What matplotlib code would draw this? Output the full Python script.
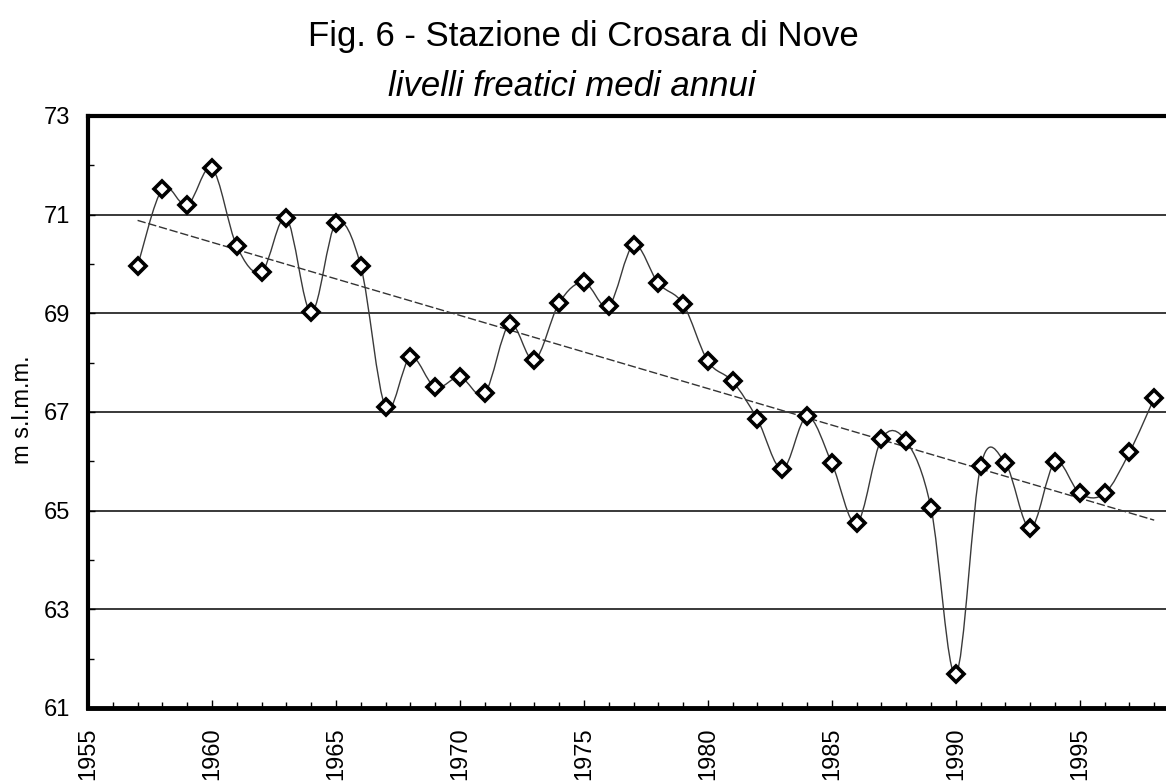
#!/usr/bin/env python3
'''
Fig. 6 - Stazione di Crosara di Nove, livelli freatici medi annui.
Excel-style smoothed line + linear trend, redrawn with matplotlib.
'''

import numpy as np
import matplotlib
matplotlib.use("Agg")
import matplotlib.pyplot as plt
from matplotlib.path import Path
from matplotlib.patches import PathPatch
from matplotlib.ticker import MultipleLocator, FixedLocator

plt.rcParams['font.family'] = ['Liberation Sans', 'DejaVu Sans']

# annual mean water table level (m s.l.m.m.)
years = list(range(1957, 1999))
levels = [69.96, 71.52, 71.19, 71.94, 70.36, 69.84, 70.93, 69.02, 70.83, 69.96,
          67.10, 68.11, 67.50, 67.71, 67.38, 68.78, 68.05, 69.21, 69.63, 69.15,
          70.38, 69.61, 69.19, 68.03, 67.62, 66.85, 65.84, 66.91, 65.96, 64.74,
          66.45, 66.41, 65.05, 61.68, 65.90, 65.96, 64.64, 65.98, 65.35, 65.35,
          66.18, 67.28]

title = "Fig. 6 - Stazione di Crosara di Nove"
subtitle = "livelli freatici medi annui"
ylabel = "m s.l.m.m."
xticks = list(range(1955, 2000, 5))
yticks = list(range(61, 74, 2))
yminor = [62, 64, 66, 68, 70, 72]


def smooth_path(x, y):
    '''Catmull-Rom like bezier through every point (what Excel calls a smoothed line).'''
    pts = np.column_stack([x, y]).astype(float)
    n = len(pts)
    verts = [pts[0]]
    codes = [Path.MOVETO]
    for i in range(n - 1):
        p0 = pts[max(i - 1, 0)]
        p1 = pts[i]
        p2 = pts[i + 1]
        p3 = pts[min(i + 2, n - 1)]
        verts += [p1 + (p2 - p0) / 6, p2 - (p3 - p1) / 6, p2]
        codes += [Path.CURVE4] * 3
    return Path(verts, codes)


fig = plt.figure(figsize=(11.66, 7.84), dpi=100)
# axes runs past the right edge of the figure, like the cropped scan
ax = fig.add_axes([88 / 1166, 76 / 784, 1091 / 1166, 592 / 784])

ax.set_xlim(1955, 1999)
ax.set_ylim(61, 73)

# horizontal grid
for v in yticks[1:-1]:
    ax.axhline(v, color='#2a2a2a', lw=1.3, zorder=1)

# smoothed series
ax.add_patch(PathPatch(smooth_path(years, levels), fill=False,
                       edgecolor='#3a3a3a', lw=1.0, zorder=2))
ax.plot(years, levels, ls='none', marker='D', ms=8, mfc='white',
        mec='black', mew=2.6, zorder=4)

# linear trend
coef = np.polyfit(years, levels, 1)
tx = np.array([years[0], years[-1]])
ax.plot(tx, np.polyval(coef, tx), color='#333333', lw=1.0,
        ls=(0, (6, 2)), zorder=3)

ax.xaxis.set_minor_locator(MultipleLocator(1))
ax.yaxis.set_minor_locator(FixedLocator(yminor))
ax.set_xticks(xticks)
ax.set_yticks(yticks)

ax.tick_params(axis='x', which='major', direction='in', length=6, width=1,
               pad=14, labelsize=17, labelrotation=90, top=False)
ax.tick_params(axis='x', which='minor', direction='in', length=4, width=1, top=False)
ax.tick_params(axis='y', which='major', direction='in', length=5, width=1,
               pad=13, labelsize=17, right=False)
ax.tick_params(axis='y', which='minor', direction='in', length=4, width=1, right=False)
for lab in ax.get_xticklabels():
    lab.set_va('top')

ax.spines['left'].set_linewidth(3.0)
ax.spines['bottom'].set_linewidth(3.5)
ax.spines['top'].set_linewidth(3.0)
ax.spines['right'].set_visible(False)

fig.text(23 / 1166, 1 - 410 / 784, ylabel, rotation=90, ha='center', va='center',
         fontsize=17)
fig.text(0.5, 1 - 46 / 784, title, ha='center', va='baseline', fontsize=25)
fig.text(0.49, 1 - 96 / 784, subtitle, ha='center', va='baseline', fontsize=25,
         style='italic')

fig.savefig("out.png", dpi=100)
